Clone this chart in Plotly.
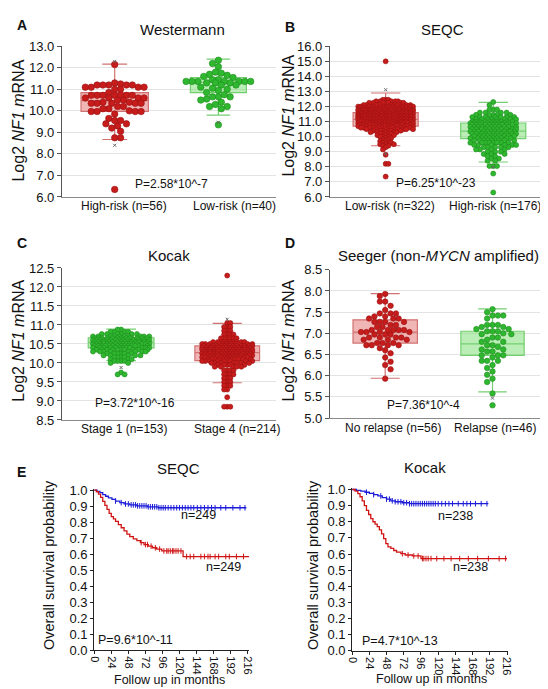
import numpy as np
import plotly.graph_objects as go

W, H = 548, 689
FONT = "Arial, Liberation Sans, sans-serif"

RED_PT, RED_PT_EDGE = "#c61c1c", "#9b1010"
GRN_PT, GRN_PT_EDGE = "#2fb82f", "#1e8c1e"
RED_FILL, RED_LINE = "rgba(226,110,110,0.50)", "#d27272"
GRN_FILL, GRN_LINE = "rgba(120,222,110,0.50)", "#74cf70"
KM_BLUE, KM_RED = "#1c1cd8", "#d01414"

# ---------------- data ----------------
# Panel A - Westermann
A_title = "Westermann"
A_labels = ["High-risk (n=56)", "Low-risk (n=40)"]
A_hr_vals = [12.15, 11.3, 11.25, 11.2, 11.1, 11.0, 10.85, 10.72, 10.6, 10.5, 10.4, 10.35, 10.2,
             10.1, 10.0, 9.97, 9.85, 9.65, 9.55, 9.4, 9.3, 9.2, 9.05, 8.75, 6.35]
A_hr_cnt = [1, 1, 1, 5, 4, 2, 1, 7, 4, 2, 2, 5, 2, 2, 1, 4, 1, 1, 2, 2, 1, 1, 1, 2, 1]
A_lr_vals = [12.35, 12.2, 12.05, 11.8, 11.75, 11.7, 11.65, 11.6, 11.55, 11.45, 11.37, 11.3, 11.2,
             11.1, 11.05, 11.0, 10.95, 10.85, 10.75, 10.65, 10.55, 10.5, 10.4, 10.3, 10.2, 10.1, 9.35]
A_lr_cnt = [1, 1, 1, 1, 1, 1, 1, 1, 1, 2, 7, 3, 2, 1, 1, 1, 1, 1, 1, 3, 1, 1, 1, 1, 2, 1, 1]
A_q1, A_med, A_q3 = [9.97, 10.85], [10.48, 11.32], [10.85, 11.55]
A_lo, A_hi = [8.67, 9.80], [12.17, 12.40]
A_marks = [[12.3, 8.4], [9.47]]
A_p = "P=2.58*10^-7"

# Panel B - SEQC
B_title = "SEQC"
B_labels = ["Low-risk (n=322)", "High-risk (n=176)"]
B_lr_vals = [15.0, 12.45, 12.35, 12.25, 12.1, 12.0, 11.9, 11.8, 11.7, 11.6, 11.5, 11.4, 11.3, 11.2,
             11.1, 11.0, 10.9, 10.8, 10.7, 10.6, 10.5, 10.4, 10.3, 10.2, 10.1, 10.0, 9.9, 9.8, 9.7,
             9.6, 9.5, 9.4, 9.3, 9.15, 8.8, 8.2, 7.35]
B_lr_cnt = [1, 3, 5, 7, 9, 12, 14, 16, 18, 19, 20, 20, 20, 20, 19, 18, 16, 14, 12, 10, 8, 6, 5, 4,
            3, 3, 2, 2, 2, 3, 3, 2, 1, 1, 1, 2, 1]
B_hr_vals = [12.3, 12.1, 11.8, 11.6, 11.45, 11.3, 11.15, 11.0, 10.9, 10.8, 10.65, 10.5, 10.35, 10.2,
             10.05, 9.9, 9.75, 9.6, 9.45, 9.3, 9.15, 9.0, 8.85, 8.7, 8.55, 8.4, 8.05, 7.55, 6.3]
B_hr_cnt = [1, 1, 3, 4, 5, 7, 8, 10, 11, 11, 11, 12, 12, 11, 10, 10, 9, 8, 6, 5, 4, 3, 3, 2, 2, 2,
            3, 1, 1]
B_q1, B_med, B_q3 = [10.70, 9.87], [11.15, 10.37], [11.60, 10.91]
B_lo, B_hi = [9.40, 8.32], [12.90, 12.28]
B_marks = [[13.12, 8.86], [7.99]]
B_p = "P=6.25*10^-23"

# Panel C - Kocak
C_title = "Kocak"
C_labels = ["Stage 1 (n=153)", "Stage 4 (n=214)"]
C_s1_vals = [10.88, 10.82, 10.76, 10.7, 10.65, 10.6, 10.55, 10.5, 10.45, 10.4, 10.35, 10.3, 10.25,
             10.2, 10.15, 10.1, 10.05, 10.0, 9.75, 9.7]
C_s1_cnt = [2, 4, 6, 10, 13, 14, 17, 16, 14, 12, 10, 8, 6, 5, 4, 3, 4, 2, 1, 2]
C_s4_vals = [12.3, 11.05, 10.95, 10.85, 10.75, 10.65, 10.55, 10.5, 10.45, 10.4, 10.35, 10.3, 10.25,
             10.2, 10.15, 10.1, 10.05, 10.0, 9.95, 9.9, 9.8, 9.7, 9.6, 9.5, 9.4, 9.3, 9.1, 8.85]
C_s4_cnt = [1, 2, 3, 3, 4, 6, 10, 12, 14, 17, 17, 17, 17, 16, 14, 12, 9, 7, 5, 5, 4, 4, 3, 3, 3, 2,
            1, 3]
C_q1, C_med, C_q3 = [10.40, 10.06], [10.54, 10.27], [10.66, 10.45]
C_lo, C_hi = [10.06, 9.48], [10.89, 11.04]
C_marks = [[9.88], [11.15]]
C_p = "P=3.72*10^-16"

# Panel D - Seeger
D_title = "Seeger (non-<i>MYCN</i> amplified)"
D_labels = ["No relapse (n=56)", "Relapse (n=46)"]
D_nr_vals = [7.93, 7.88, 7.75, 7.65, 7.55, 7.47, 7.4, 7.35, 7.27, 7.2, 7.15, 7.08, 7.03, 6.97, 6.9,
             6.85, 6.77, 6.72, 6.65, 6.6, 6.53, 6.43, 6.33, 6.25, 6.15, 5.93]
D_nr_cnt = [1, 1, 2, 1, 1, 3, 2, 3, 4, 2, 2, 5, 4, 3, 4, 3, 3, 4, 1, 1, 1, 1, 1, 1, 1, 1]
D_re_vals = [7.57, 7.5, 7.42, 7.35, 7.2, 7.15, 7.1, 7.05, 7.0, 6.98, 6.9, 6.85, 6.8, 6.72, 6.68,
             6.62, 6.57, 6.48, 6.43, 6.35, 6.25, 6.18, 6.1, 6.02, 5.93, 5.85, 5.58, 5.3]
D_re_cnt = [1, 1, 3, 1, 3, 2, 2, 3, 1, 2, 2, 1, 2, 2, 1, 2, 2, 3, 1, 3, 1, 1, 1, 1, 1, 1, 1, 1]
D_q1, D_med, D_q3 = [6.77, 6.48], [7.03, 6.75], [7.32, 7.05]
D_lo, D_hi = [5.94, 5.62], [7.94, 7.58]
D_marks = [[], [5.47]]
D_p = "P=7.36*10^-4"

# Panel E - Kaplan-Meier
E1_title, E2_title = "SEQC", "Kocak"
E1_blue_t = [0, 4, 8, 12, 16, 20, 25, 30, 36, 42, 50, 60, 75, 90]
E1_blue_s = [1.0, 0.992, 0.984, 0.972, 0.962, 0.952, 0.942, 0.932, 0.922, 0.914, 0.908, 0.902, 0.896, 0.89]
E1_blue_end = 214
E1_blue_cens = [30, 38, 44, 48, 52, 55, 58, 61, 64, 67, 70, 73, 76, 79, 82, 85, 88, 91, 94, 97, 100,
                104, 108, 112, 116, 120, 124, 128, 132, 136, 140, 145, 150, 155, 160, 165, 170, 178,
                185, 195, 205, 212]
E1_red_t = [0, 3, 6, 9, 12, 15, 18, 21, 24, 27, 30, 34, 38, 42, 46, 50, 55, 60, 65, 70, 76, 82, 88,
            95, 125]
E1_red_s = [1.0, 0.99, 0.975, 0.955, 0.93, 0.905, 0.88, 0.855, 0.835, 0.82, 0.805, 0.785, 0.765,
            0.745, 0.725, 0.71, 0.695, 0.685, 0.672, 0.66, 0.65, 0.64, 0.632, 0.62, 0.585]
E1_red_end = 218
E1_red_cens = [66, 72, 75, 80, 86, 92, 98, 102, 104, 107, 110, 112, 115, 118, 122, 130, 135, 140,
               150, 155, 160, 163, 170, 175, 185, 190, 200, 210]
E1_n = ["n=249", "n=249"]
E1_p = "P=9.6*10^-11"

E2_blue_t = [0, 6, 12, 18, 24, 30, 36, 42, 48, 54, 60, 70, 80]
E2_blue_s = [1.0, 0.995, 0.99, 0.983, 0.976, 0.968, 0.96, 0.95, 0.94, 0.93, 0.924, 0.918, 0.912]
E2_blue_end = 190
E2_blue_cens = [20, 30, 40, 48, 52, 56, 60, 64, 68, 72, 76, 80, 83, 86, 89, 92, 95, 98, 101, 104,
                107, 110, 113, 116, 120, 125, 130, 135, 140, 148, 155, 160, 165, 172, 180, 188]
E2_red_t = [0, 4, 8, 11, 14, 17, 20, 23, 26, 29, 32, 35, 38, 41, 44, 47, 50, 54, 58, 62, 68, 74, 84, 96]
E2_red_s = [1.0, 0.99, 0.975, 0.955, 0.93, 0.9, 0.87, 0.845, 0.82, 0.8, 0.785, 0.77, 0.75, 0.725,
            0.695, 0.665, 0.645, 0.635, 0.622, 0.612, 0.602, 0.594, 0.588, 0.572]
E2_red_end = 216
E2_red_cens = [70, 78, 86, 92, 98, 100, 103, 106, 110, 118, 128, 138, 150, 162, 175, 190, 205, 214]
E2_n = ["n=238", "n=238"]
E2_p = "P=4.7*10^-13"


# ---------------- helpers ----------------
def px_x(p):
    return p / W


def px_y(p):
    return 1 - p / H


def beeswarm(values, counts, xppu, yppu, d, maxhalf):
    vals = np.repeat(np.asarray(values, float), counts)
    order = np.argsort(-vals, kind="stable")
    step = d * 0.5
    nmax = int(maxhalf // step)
    pos = [0.0]
    neg = [0.0]
    for k in range(1, nmax + 1):
        pos += [k * step, -k * step]
        neg += [-k * step, k * step]
    placed = []
    xs = np.zeros(len(vals))
    for j, i in enumerate(order):
        y = vals[i] * yppu
        near = [(px, py) for px, py in placed if abs(py - y) < d]
        cands = pos if j % 2 == 0 else neg
        chosen, best, bestd = None, 0.0, -1
        for c in cands:
            md = min(((c - px) ** 2 + (y - py) ** 2) ** 0.5 for px, py in near) if near else 1e9
            if md >= d:
                chosen = c
                break
            if md > bestd:
                bestd, best = md, c
        if chosen is None:
            chosen = best
        xs[i] = chosen / xppu
        placed.append((chosen, y))
    return xs, vals


fig = go.Figure()
layout = dict(width=W, height=H, margin=dict(l=0, r=0, t=0, b=0),
              paper_bgcolor="white", plot_bgcolor="white", showlegend=False,
              font=dict(family=FONT, color="#111"))
annotations = []


def ann(text, x, y, size, bold=False, angle=0, color="#111"):
    annotations.append(dict(text=("<b>%s</b>" % text) if bold else text, x=px_x(x), y=px_y(y),
                            xref="paper", yref="paper", showarrow=False, xanchor="center",
                            yanchor="middle", textangle=angle,
                            font=dict(size=size, family=FONT, color=color)))


# box panels configuration (geometry only)
box_panels = [
    dict(k="", xr=[-0.509, 1.557], xd=(49, 268), yr=[6, 13], yd=(32, 186), dtick=1, unit=106,
         widths=[0.65, 0.54], ticks=[0.085, 1.156], labels=A_labels, laby=195,
         groups=[(A_hr_vals, A_hr_cnt, "red", 6.0, 34, 6.5), (A_lr_vals, A_lr_cnt, "green", 6.0, 34, 6.5)],
         q1=A_q1, med=A_med, q3=A_q3, lo=A_lo, hi=A_hi, marks=A_marks, ww=[0.37, 0.42]),
    dict(k="2", xr=[-0.518, 1.473], xd=(323, 542), yr=[6, 16], yd=(32, 186), dtick=1, unit=110,
         widths=[0.605, 0.605], ticks=[0.039, 1.02], labels=B_labels, laby=195,
         groups=[(B_lr_vals, B_lr_cnt, "red", 2.8, 28, 5.0), (B_hr_vals, B_hr_cnt, "green", 3.9, 24, 5.0)],
         q1=B_q1, med=B_med, q3=B_q3, lo=B_lo, hi=B_hi, marks=B_marks, ww=[0.45, 0.45]),
    dict(k="3", xr=[-0.558, 1.461], xd=(49, 268), yr=[8.5, 12.5], yd=(258.6, 414), dtick=0.5, unit=108.5,
         widths=[0.62, 0.61], ticks=[0.028, 1.092], labels=C_labels, laby=423,
         groups=[(C_s1_vals, C_s1_cnt, "green", 3.6, 30, 5.0), (C_s4_vals, C_s4_cnt, "red", 3.2, 26, 5.0)],
         q1=C_q1, med=C_med, q3=C_q3, lo=C_lo, hi=C_hi, marks=C_marks, ww=[0.45, 0.45]),
    dict(k="4", xr=[-0.515, 1.481], xd=(323, 542), yr=[5.0, 8.5], yd=(260.5, 412), dtick=0.5, unit=109.7,
         widths=[0.6, 0.59], ticks=[0.071, 1.02], labels=D_labels, laby=422,
         groups=[(D_nr_vals, D_nr_cnt, "red", 5.5, 28, 5.5), (D_re_vals, D_re_cnt, "green", 5.5, 28, 5.5)],
         q1=D_q1, med=D_med, q3=D_q3, lo=D_lo, hi=D_hi, marks=D_marks, ww=[0.45, 0.45]),
]

for p in box_panels:
    xa, ya = "x" + p["k"], "y" + p["k"]
    yppu = (p["yd"][1] - p["yd"][0]) / (p["yr"][1] - p["yr"][0])
    for gi, (vals, cnts, col, d, mh, msize) in enumerate(p["groups"]):
        fill, line = (RED_FILL, RED_LINE) if col == "red" else (GRN_FILL, GRN_LINE)
        fig.add_trace(go.Box(x=[gi], q1=[p["q1"][gi]], median=[p["med"][gi]], q3=[p["q3"][gi]],
                             lowerfence=[p["lo"][gi]], upperfence=[p["hi"][gi]],
                             width=p["widths"][gi], whiskerwidth=p["ww"][gi],
                             fillcolor=fill, line=dict(color=line, width=1.2),
                             boxpoints=False, xaxis=xa, yaxis=ya, hoverinfo="skip"))
    for gi, (vals, cnts, col, d, mh, msize) in enumerate(p["groups"]):
        pc, pe = (RED_PT, RED_PT_EDGE) if col == "red" else (GRN_PT, GRN_PT_EDGE)
        offs, yv = beeswarm(vals, cnts, p["unit"], yppu, d, mh)
        fig.add_trace(go.Scatter(x=gi + offs, y=yv, mode="markers", xaxis=xa, yaxis=ya,
                                 marker=dict(size=msize, color=pc, line=dict(color=pe, width=0.6)),
                                 hoverinfo="skip"))
        if p["marks"][gi]:
            fig.add_trace(go.Scatter(x=[gi] * len(p["marks"][gi]), y=p["marks"][gi], mode="markers",
                                     xaxis=xa, yaxis=ya, hoverinfo="skip",
                                     marker=dict(symbol="x-thin", size=3, color="#666",
                                                 line=dict(color="#666", width=1))))
    key = p["k"]
    layout["xaxis" + key] = dict(domain=[px_x(p["xd"][0]), px_x(p["xd"][1])], range=p["xr"],
                                 anchor=ya, showgrid=False, zeroline=False, showline=True,
                                 linecolor="#8a8a8a", linewidth=1, ticks="", showticklabels=False)
    layout["yaxis" + key] = dict(domain=[px_y(p["yd"][1]), px_y(p["yd"][0])], range=p["yr"],
                                 anchor=xa, dtick=p["dtick"], tickformat=".1f", showgrid=True,
                                 gridcolor="#e3e3e3", gridwidth=1, zeroline=False, showline=True,
                                 linecolor="#555", linewidth=1, ticks="outside", ticklen=4,
                                 tickcolor="#555", tickfont=dict(size=13, family=FONT, color="#111"))
    # category labels, placed at the category positions of the x axis
    for tv, tt in zip(p["ticks"], p["labels"]):
        annotations.append(dict(text=tt, x=tv, xref=xa, y=px_y(p["laby"]), yref="paper",
                                showarrow=False, xanchor="center", yanchor="middle",
                                font=dict(size=12, family=FONT, color="#111")))

# KM panels
km_panels = [
    dict(k="5", xd=(82, 240.5), xr=[0, 218], yd=(484.1, 649.3), yr=[0, 1.01],
         curves=[(E1_blue_t, E1_blue_s, E1_blue_end, E1_blue_cens, KM_BLUE),
                 (E1_red_t, E1_red_s, E1_red_end, E1_red_cens, KM_RED)]),
    dict(k="6", xd=(345.7, 504.8), xr=[0, 217], yd=(483.4, 650), yr=[0, 1.01],
         curves=[(E2_blue_t, E2_blue_s, E2_blue_end, E2_blue_cens, KM_BLUE),
                 (E2_red_t, E2_red_s, E2_red_end, E2_red_cens, KM_RED)]),
]
for p in km_panels:
    xa, ya = "x" + p["k"], "y" + p["k"]
    for t, s, end, cens, col in p["curves"]:
        fig.add_trace(go.Scatter(x=list(t) + [end], y=list(s) + [s[-1]], mode="lines",
                                 line=dict(color=col, width=1.3, shape="hv"),
                                 xaxis=xa, yaxis=ya, hoverinfo="skip"))
        idx = np.searchsorted(np.asarray(t), np.asarray(cens), side="right") - 1
        cy = np.asarray(s)[idx]
        fig.add_trace(go.Scatter(x=cens, y=cy, mode="markers", xaxis=xa, yaxis=ya, hoverinfo="skip",
                                 marker=dict(symbol="line-ns-open", size=4, color=col,
                                             line=dict(color=col, width=1))))
    layout["xaxis" + p["k"]] = dict(domain=[px_x(p["xd"][0]), px_x(p["xd"][1])], range=p["xr"],
                                    anchor=ya, tickvals=list(range(0, 217, 24)), tickangle=90,
                                    showgrid=False, zeroline=False, showline=True, linecolor="#222",
                                    linewidth=1, ticks="outside", ticklen=3, tickcolor="#222",
                                    tickfont=dict(size=11, family=FONT, color="#111"))
    layout["yaxis" + p["k"]] = dict(domain=[px_y(p["yd"][1]), px_y(p["yd"][0])], range=p["yr"],
                                    anchor=xa, tickvals=[i / 10 for i in range(11)], tickformat=".1f",
                                    showgrid=False, zeroline=False, showline=True, linecolor="#222",
                                    linewidth=1, ticks="outside", ticklen=3, tickcolor="#222",
                                    tickfont=dict(size=13, family=FONT, color="#111"))

# panel letters
ann("A", 8, 10, 14, bold=True)
ann("B", 282, 12, 14, bold=True)
ann("C", 8, 233, 14, bold=True)
ann("D", 282, 233, 14, bold=True)
ann("E", 8, 467, 14, bold=True)

# titles
ann(A_title, 172.5, 15, 15)
ann(B_title, 438, 15, 15)
ann(C_title, 158, 246, 15)
ann(D_title, 434, 246, 15)
ann(E1_title, 168, 464, 15)
ann(E2_title, 420, 463, 15)

# y axis titles (rotated annotations render ~10px right of their anchor, hence the shift)
ylab = "Log2 <i>NF1</i> <i>m</i>RNA"
ann(ylab, 5, 108, 16, angle=-90)
ann(ylab, 281, 103, 16, angle=-90)
ann(ylab, 5, 333, 16, angle=-90)
ann(ylab, 281, 333, 16, angle=-90)
ann("Overall survival probability", 36, 562, 14.5, angle=-90)
ann("Overall survival probability", 305, 562, 14.5, angle=-90)
ann("Follow up in months", 159, 680, 12.5)
ann("Follow up in months", 426.5, 679, 12.5)

# p values
ann(A_p, 161, 173, 12)
ann(B_p, 431, 172, 12)
ann(C_p, 124, 397, 12)
ann(D_p, 419, 399, 12)
ann(E1_p, 124, 639, 12.5)
ann(E2_p, 395, 640, 12.5)

# n labels
ann(E1_n[0], 189, 511, 12.5)
ann(E1_n[1], 214, 564, 12.5)
ann(E2_n[0], 451, 512, 12.5)
ann(E2_n[1], 467, 564, 12.5)

layout["annotations"] = annotations
fig.update_layout(**layout)
fig.write_html("out.html")
